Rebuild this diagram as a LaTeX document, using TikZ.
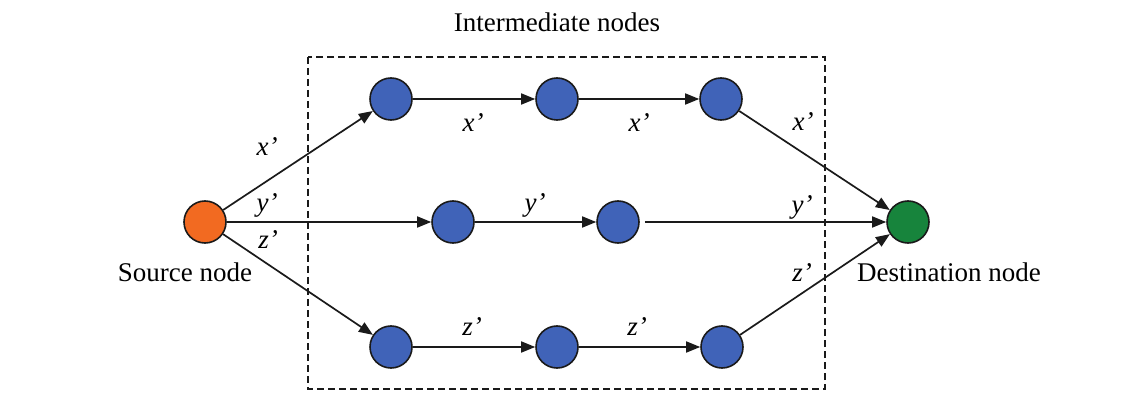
\documentclass[tikz,border=0pt]{standalone}
\usepackage{fontspec}
\setmainfont{Liberation Serif}
\usetikzlibrary{arrows.meta}
\definecolor{NetOrange}{HTML}{F26A21}
\definecolor{NetBlue}{HTML}{4063B8}
\definecolor{NetGreen}{HTML}{17843C}
\definecolor{NetInk}{HTML}{1A1A1A}

\begin{document}
\begin{tikzpicture}[x=1pt,y=-1pt,>={Triangle[length=14pt,width=11pt]},
  font=\fontsize{27}{30}\selectfont,
  hop/.style={circle,draw=NetInk,line width=1.6pt,minimum size=42pt,inner sep=0pt,fill=NetBlue},
  link/.style={->,line width=1.7pt,NetInk},
  tag/.style={font=\fontsize{27}{30}\selectfont\itshape}]
  \useasboundingbox (0,0) rectangle (1141,398);
  % intermediate region
  \draw[NetInk,line width=2.2pt,dash pattern=on 7pt off 4pt] (308,57) rectangle (825,389);
  \node[anchor=base] (title) at (557,32) {Intermediate nodes};
  % end points
  \node[hop,fill=NetOrange] (src) at (205,222) {};
  \node[hop,fill=NetGreen] (dst) at (908,222) {};
  \node[anchor=base] (srclabel) at (185,281) {Source node};
  \node[anchor=base] (dstlabel) at (949,281) {Destination node};
  % hops
  \node[hop] (a1) at (391,99) {};
  \node[hop] (a2) at (557,99) {};
  \node[hop] (a3) at (721,99) {};
  \node[hop] (b1) at (453,222) {};
  \node[hop] (b2) at (618,222) {};
  \node[hop] (c1) at (391,347) {};
  \node[hop] (c2) at (557,347) {};
  \node[hop] (c3) at (722,347) {};
  % x' path
  \draw[link] (src) -- (a1);
  \draw[link] (a1) -- (a2);
  \draw[link] (a2) -- (a3);
  \draw[link] (a3) -- (dst);
  \node[tag] (x1) at (267,147) {x’};
  \node[tag] (x2) at (473,123) {x’};
  \node[tag] (x3) at (639,123) {x’};
  \node[tag] (x4) at (803,122) {x’};
  % y' path
  \draw[link] (src) -- (b1);
  \draw[link] (b1) -- (b2);
  \draw[link,shorten <=5pt] (b2) -- (dst);
  \node[tag] (y1) at (267,205) {y’};
  \node[tag] (y2) at (535,205) {y’};
  \node[tag] (y3) at (802,207) {y’};
  % z' path
  \draw[link] (src) -- (c1);
  \draw[link] (c1) -- (c2);
  \draw[link] (c2) -- (c3);
  \draw[link] (c3) -- (dst);
  \node[tag] (z1) at (268,240) {z’};
  \node[tag] (z2) at (472,327) {z’};
  \node[tag] (z3) at (637,327) {z’};
  \node[tag] (z4) at (802,273) {z’};
\end{tikzpicture}
\end{document}
